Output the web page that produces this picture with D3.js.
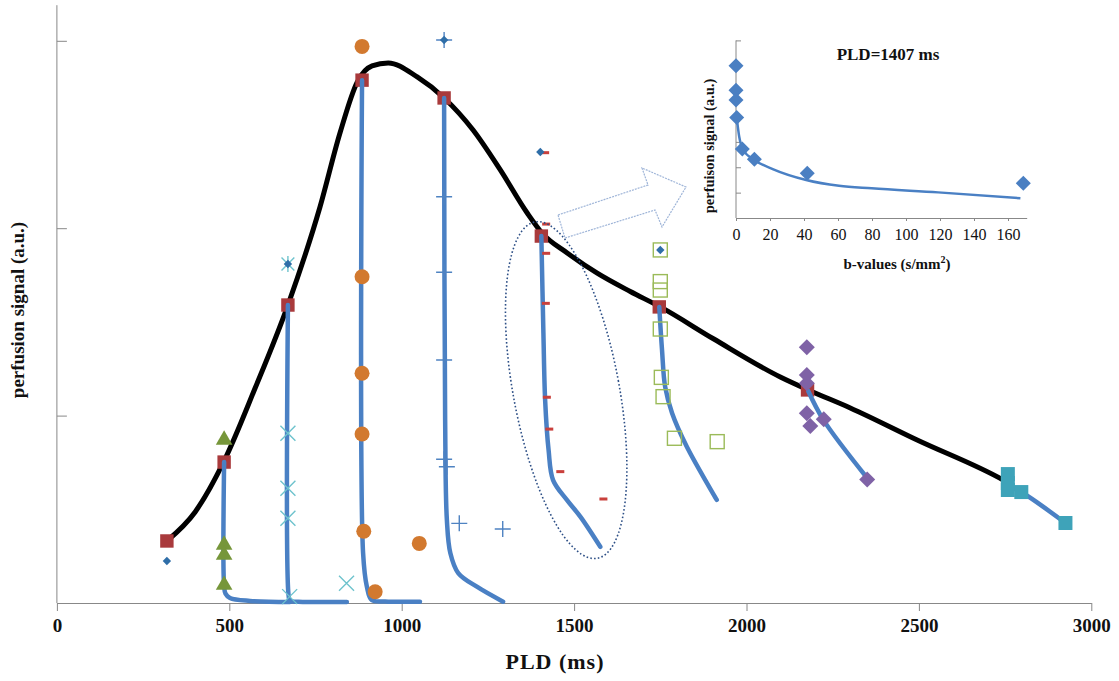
<!DOCTYPE html>
<html>
<head>
<meta charset="utf-8">
<script src="https://cdn.jsdelivr.net/npm/d3@7"></script>
<style>
  html, body { margin: 0; padding: 0; background: #fff; }
  svg { display: block; font-family: "Liberation Serif", "Times New Roman", serif; }
</style>
</head>
<body>
<svg id="chart" width="1119" height="681"></svg>
<script>
// ---- main plot: perfusion signal versus post-labelling delay (PLD, ms) ----
const xTicks = [0, 500, 1000, 1500, 2000, 2500, 3000];
const yTicks = [1, 2, 3];

// smooth kinetic fit through the b=0 signals
const fitCurve = [
  [319, 0.331], [401, 0.486], [485, 0.758], [575, 1.147], [670, 1.59],
  [763, 2.113], [821, 2.508], [871, 2.780], [914, 2.866], [961, 2.882],
  [1045, 2.807], [1123, 2.695], [1207, 2.524], [1286, 2.311], [1364, 2.081],
  [1407, 1.974], [1480, 1.868], [1567, 1.76], [1663, 1.662], [1750, 1.58],
  [1904, 1.41], [2098, 1.206], [2179, 1.137], [2301, 1.041], [2495, 0.870],
  [2745, 0.656], [2765, 0.635]
];

// measured signal at each PLD
const pldSignal = [
  [319, 0.331], [485, 0.752], [670, 1.59], [885, 2.79], [1123, 2.695],
  [1405, 1.958], [1747, 1.58], [2177, 1.137]
];

// diffusion-weighted decay fits at each PLD
const decay485  = [[485, 0.752], [485, 0.09], [489, 0.05], [502, 0.027], [560, 0.011], [676, 0.005]];
const decay670  = [[670, 1.59], [672, 0.04], [676, 0.012], [700, 0.007], [841, 0.005]];
const decay885  = [[885, 2.79], [888, 0.267], [899, 0.087], [913, 0.016], [952, 0.008], [1053, 0.007]];
const decay1125 = [[1123, 2.695], [1126, 0.977], [1131, 0.443], [1141, 0.267], [1164, 0.160], [1218, 0.087], [1294, 0.007]];
const decay1407 = [[1405, 1.958], [1411, 1.441], [1416, 1.083], [1426, 0.816], [1439, 0.656], [1479, 0.55], [1518, 0.461], [1576, 0.30]];
const decay1750 = [[1747, 1.58], [1755, 1.35], [1764, 1.154], [1784, 1.014], [1827, 0.834], [1914, 0.55]];
const decay2180 = [[2179, 1.131], [2223, 0.977], [2350, 0.667]];
const decay2760 = [[2760, 0.624], [2797, 0.592], [2925, 0.427]];

// b-value series at each PLD
const pts320  = [[319, 0.224], [670, 1.809], [1123, 3.004], [1402, 2.407], [1750, 1.884]];
const pts485  = [[485, 0.870], [485, 0.310], [485, 0.256], [485, 0.096]];
const pts670  = [[670, 0.906], [670, 0.612], [670, 0.452], [675, 0.034], [840, 0.105]];
const pts670star = [[670, 1.809]];
const pts885  = [[885, 2.97], [885, 1.741], [885, 1.226], [885, 0.902], [890, 0.383], [1051, 0.318], [923, 0.060]];
const pts1125 = [[1123, 3.004], [1123, 2.168], [1123, 1.765], [1123, 1.297], [1123, 0.767], [1131, 0.727], [1167, 0.425], [1293, 0.395]];
const pts1407 = [[1416, 2.403], [1419, 2.022], [1419, 1.866], [1418, 1.599], [1421, 1.098], [1428, 0.928], [1460, 0.701], [1585, 0.555]];
const pts1750 = [[1750, 1.884], [1750, 1.715], [1750, 1.67], [1750, 1.462], [1753, 1.204], [1758, 1.101], [1791, 0.879], [1915, 0.861]];
const pts2180 = [[2175, 1.365], [2175, 1.217], [2175, 1.173], [2175, 1.013], [2185, 0.944], [2224, 0.98], [2350, 0.659]];
const pts2760 = [[2758, 0.688], [2758, 0.64], [2758, 0.603], [2797, 0.592], [2925, 0.427]];

// ---- inset: signal decay over b-values at PLD = 1407 ms ----
const insetXTicks = [0, 20, 40, 60, 80, 100, 120, 140, 160];
const insetYTicks = [1, 2, 3, 4, 5, 6, 7];
const insetB      = [0, 0, 0, 0.4, 3.7, 10.8, 41.9, 169];
const insetSignal = [6.0, 5.04, 4.65, 3.96, 2.72, 2.32, 1.76, 1.37];
const insetFitB      = [0.4, 1.9, 4.3, 11, 21.6, 41.3, 60.6, 79.8, 118.9, 167.3];
const insetFitSignal = [3.98, 3.2, 2.68, 2.28, 1.93, 1.50, 1.27, 1.17, 1.01, 0.78];

const svg = d3.select("#chart");
const AXIS = "#888888";
const BLUE = "#4a80c4";

const x = d3.scaleLinear().domain([0, 3000]).range([56.9, 1091.3]);
const y = d3.scaleLinear().domain([0, 3]).range([603, 40.8]);

// axes
const gx = svg.append("g").attr("transform", `translate(0,${y(0)})`)
  .call(d3.axisBottom(x).tickValues(xTicks).tickFormat(d3.format("d"))
    .tickSize(8).tickSizeOuter(0).tickPadding(8));
gx.select(".domain").attr("stroke", AXIS);
gx.selectAll(".tick line").attr("stroke", AXIS);
gx.selectAll(".tick text").attr("font-size", 19).attr("font-weight", "bold")
  .attr("font-family", "Liberation Serif").attr("fill", "#111");

svg.append("line").attr("x1", x(0)).attr("x2", x(0)).attr("y1", y(0)).attr("y2", y(3.19))
  .attr("stroke", AXIS);
const gy = svg.append("g").attr("transform", `translate(${x(0)},0)`)
  .call(d3.axisRight(y).tickValues(yTicks).tickSize(10).tickFormat(""));
gy.select(".domain").remove();
gy.selectAll(".tick line").attr("stroke", AXIS);

svg.append("text").attr("x", 555).attr("y", 669).attr("text-anchor", "middle")
  .attr("font-size", 22).attr("font-weight", "bold").attr("letter-spacing", 1)
  .attr("fill", "#111").text("PLD (ms)");
svg.append("text").attr("transform", "translate(24,310) rotate(-90)").attr("text-anchor", "middle")
  .attr("font-size", 19).attr("font-weight", "bold").attr("fill", "#111").text("perfusion signal (a.u.)");

const line = d3.line().x(d => x(d[0])).y(d => y(d[1])).curve(d3.curveCatmullRom.alpha(0.5));
const smooth = d3.line().x(d => x(d[0])).y(d => y(d[1])).curve(d3.curveMonotoneX);

// kinetic fit
svg.append("path").attr("d", smooth(fitCurve)).attr("fill", "none")
  .attr("stroke", "#000").attr("stroke-width", 5).attr("stroke-linecap", "round");

// PLD signal squares
svg.append("g").selectAll("path").data(pldSignal).join("path")
  .attr("transform", d => `translate(${x(d[0])},${y(d[1])})`)
  .attr("d", d3.symbol(d3.symbolSquare, 180)).attr("fill", "#a93a3c");

// decay fits
[decay485, decay670, decay885, decay1125, decay1407, decay1750, decay2180, decay2760].forEach(s => {
  svg.append("path").attr("d", line(s)).attr("fill", "none")
    .attr("stroke", BLUE).attr("stroke-width", 4.5).attr("stroke-linecap", "round");
});

// marker shapes
const xMark = r => `M${-r},${-r}L${r},${r}M${-r},${r}L${r},${-r}`;
const plusMark = r => `M${-r},0H${r}M0,${-r}V${r}`;
const starMark = r => xMark(r * 0.8) + `M0,${-r}V${r}`;
const diamond = r => `M0,${-r}L${r},0L0,${r}L${-r},0Z`;
const pos = d => `translate(${x(d[0])},${y(d[1])})`;

// PLD 485: triangles
svg.append("g").selectAll("path").data(pts485).join("path")
  .attr("transform", pos).attr("d", d3.symbol(d3.symbolTriangle, 120)).attr("fill", "#76963a");

// PLD 670: crosses
svg.append("g").selectAll("path").data(pts670).join("path")
  .attr("transform", pos).attr("d", xMark(7.5)).attr("fill", "none")
  .attr("stroke", "#6ec3cd").attr("stroke-width", 1.4);
svg.append("g").selectAll("path").data(pts670star).join("path")
  .attr("transform", pos).attr("d", starMark(8)).attr("fill", "none")
  .attr("stroke", "#6ec3cd").attr("stroke-width", 1.4);

// PLD 885: circles
svg.append("g").selectAll("circle").data(pts885).join("circle")
  .attr("cx", d => x(d[0])).attr("cy", d => y(d[1])).attr("r", 7.5).attr("fill", "#d2792f");

// PLD 1125: plus signs
svg.append("g").selectAll("path").data(pts1125).join("path")
  .attr("transform", pos).attr("d", plusMark(8)).attr("fill", "none")
  .attr("stroke", "#4f83c2").attr("stroke-width", 1.4);

// PLD 1407: short dashes
svg.append("g").selectAll("rect").data(pts1407).join("rect")
  .attr("x", d => x(d[0]) - 4).attr("y", d => y(d[1]) - 1.5).attr("width", 8).attr("height", 3)
  .attr("fill", "#c9403c");

// PLD 1750: open squares
svg.append("g").selectAll("rect").data(pts1750).join("rect")
  .attr("x", d => x(d[0]) - 7).attr("y", d => y(d[1]) - 7).attr("width", 14).attr("height", 14)
  .attr("fill", "none").attr("stroke", "#9bbb59").attr("stroke-width", 1.4);

// PLD 2180: diamonds
svg.append("g").selectAll("path").data(pts2180).join("path")
  .attr("transform", pos).attr("d", diamond(8)).attr("fill", "#7f62a6");

// PLD 2760: squares
svg.append("g").selectAll("path").data(pts2760).join("path")
  .attr("transform", pos).attr("d", d3.symbol(d3.symbolSquare, 196)).attr("fill", "#3ea3b9");

// PLD 320 series: small diamonds
svg.append("g").selectAll("path").data(pts320).join("path")
  .attr("transform", pos).attr("d", diamond(4.2)).attr("fill", "#2f6ea8");

// dotted outline around the PLD 1407 decay
svg.append("ellipse").attr("cx", x(1477)).attr("cy", y(1.136)).attr("rx", 53).attr("ry", 171)
  .attr("transform", `rotate(-10.5,${x(1477)},${y(1.136)})`)
  .attr("fill", "none").attr("stroke", "#2d4f86").attr("stroke-width", 1.6)
  .attr("stroke-dasharray", "1.6 2.2");

// block arrow pointing to the inset
svg.append("path")
  .attr("d", "M558,215L648,185L642,168L686,187L662,227L655,210L565,238Z")
  .attr("fill", "#fff").attr("stroke", "#9fb5d8").attr("stroke-width", 1.2)
  .attr("stroke-dasharray", "2 1");

// ---- inset ----
const ix = d3.scaleLinear().domain([0, 171]).range([736, 1026.7]);
const iy = d3.scaleLinear().domain([0, 7]).range([218, 40.4]);

const igx = svg.append("g").attr("transform", `translate(0,${iy(0)})`)
  .call(d3.axisBottom(ix).tickValues(insetXTicks).tickSize(3).tickSizeOuter(0).tickPadding(8));
igx.select(".domain").attr("stroke", AXIS);
igx.selectAll(".tick line").attr("stroke", AXIS);
igx.selectAll(".tick text").attr("font-size", 16).attr("font-family", "Liberation Serif").attr("fill", "#111");

svg.append("line").attr("x1", ix(0)).attr("x2", ix(0)).attr("y1", iy(0)).attr("y2", iy(7))
  .attr("stroke", AXIS);
const igy = svg.append("g").attr("transform", `translate(${ix(0)},0)`)
  .call(d3.axisRight(iy).tickValues(insetYTicks).tickSize(5).tickFormat(""));
igy.select(".domain").remove();
igy.selectAll(".tick line").attr("stroke", AXIS);

svg.append("text").attr("x", 888).attr("y", 60).attr("text-anchor", "middle")
  .attr("font-size", 17).attr("font-weight", "bold").attr("fill", "#111").text("PLD=1407 ms");
const bl = svg.append("text").attr("x", 897).attr("y", 269).attr("text-anchor", "middle")
  .attr("font-size", 15).attr("font-weight", "bold").attr("fill", "#111");
bl.append("tspan").text("b-values (s/mm");
bl.append("tspan").attr("dy", -6).attr("font-size", 10).text("2");
bl.append("tspan").attr("dy", 6).text(")");
svg.append("text").attr("transform", "translate(714,146) rotate(-90)").attr("text-anchor", "middle")
  .attr("font-size", 14.5).attr("font-weight", "bold").attr("fill", "#111").text("perfuison signal (a.u.)");

const insetFit = insetFitB.map((b, i) => [b, insetFitSignal[i]]);
svg.append("path")
  .attr("d", d3.line().x(d => ix(d[0])).y(d => iy(d[1])).curve(d3.curveMonotoneX)(insetFit))
  .attr("fill", "none").attr("stroke", BLUE).attr("stroke-width", 2.5);

const insetPts = insetB.map((b, i) => [b, insetSignal[i]]);
svg.append("g").selectAll("path").data(insetPts).join("path")
  .attr("transform", d => `translate(${ix(d[0])},${iy(d[1])})`)
  .attr("d", diamond(7.5)).attr("fill", "#4a7fc2");
</script>
</body>
</html>
